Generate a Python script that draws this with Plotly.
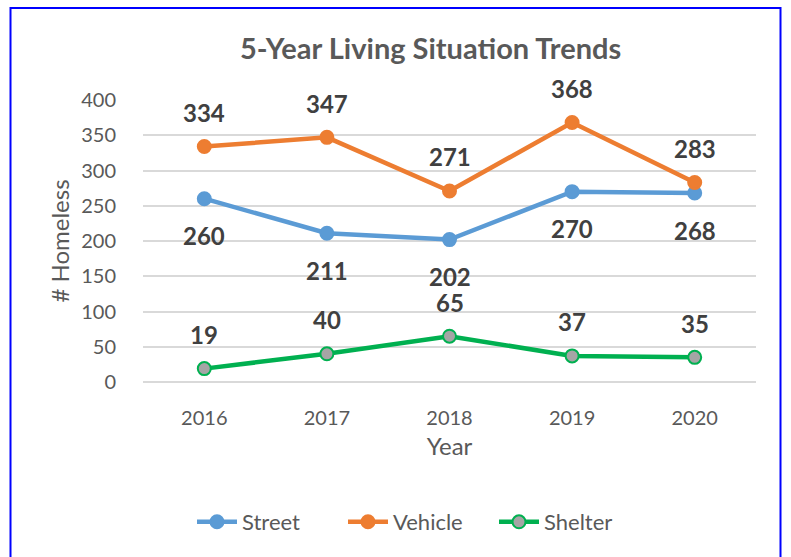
import plotly.graph_objects as go

years = ["2016", "2017", "2018", "2019", "2020"]
street = [260, 211, 202, 270, 268]
vehicle = [334, 347, 271, 368, 283]
shelter = [19, 40, 65, 37, 35]

W, H = 791, 557
L, R, T, B = 143, 35, 100, 175
pw, ph = W - L - R, H - T - B

FONT = "Lato"
fig = go.Figure()

series = [
    ("Street", street, "#5B9BD5", "#5B9BD5", 1),
    ("Vehicle", vehicle, "#ED7D31", "#ED7D31", -1),
    ("Shelter", shelter, "#00B050", "#A5A5A5", -1),
]
for name, vals, lc, fc, _ in series:
    fig.add_trace(go.Scatter(
        x=years, y=vals, name=name, mode="lines+markers",
        line=dict(color=lc, width=4.5),
        marker=dict(size=13, color=fc, line=dict(color=lc, width=2)),
        hoverinfo="skip",
    ))

annotations = []
for name, vals, lc, fc, below in series:
    for i, v in enumerate(vals):
        annotations.append(dict(
            x=i, y=v, xref="x", yref="y", text="<b>%d</b>" % v, showarrow=False,
            yshift=-37 if below == 1 else 34,
            font=dict(family=FONT, size=24, color="#404040"),
        ))

annotations.append(dict(
    x=(430 - L) / pw, y=(H - B - 47) / ph, xref="paper", yref="paper",
    xanchor="center", yanchor="middle",
    text="<b>5-Year Living Situation Trends</b>", showarrow=False,
    font=dict(family=FONT, size=29, color="#595959"),
))

fig.update_layout(
    width=W, height=H,
    margin=dict(l=L, r=R, t=T, b=B),
    paper_bgcolor="white", plot_bgcolor="white",
    showlegend=True,
    legend=dict(orientation="h", x=(192 - L) / pw, xanchor="left",
                y=(H - B - 522) / ph, yanchor="middle",
                font=dict(family=FONT, size=22, color="#595959"),
                itemwidth=40, entrywidth=96, itemclick=False),
    annotations=annotations,
    shapes=[dict(type="rect", xref="paper", yref="paper",
                 x0=(10.5 - L) / pw, x1=(780.5 - L) / pw,
                 y0=(H - B - 600) / ph, y1=(H - B - 8) / ph,
                 line=dict(color="#0000FF", width=2), layer="above")],
    xaxis=dict(
        type="category", range=[-0.5, 4.5], showgrid=False, showline=False,
        zeroline=False,
        ticks="outside", ticklen=18, tickcolor="rgba(0,0,0,0)",
        tickfont=dict(family=FONT, size=20, color="#595959"),
        title=dict(text="Year", standoff=10,
                   font=dict(family=FONT, size=24, color="#595959")),
        fixedrange=True,
    ),
    yaxis=dict(
        range=[0, 400], dtick=50, showgrid=True, gridcolor="#D9D9D9",
        gridwidth=1.5, zeroline=True, zerolinecolor="#D9D9D9",
        zerolinewidth=1.5, showline=False,
        ticks="outside", ticklen=22, tickcolor="rgba(0,0,0,0)",
        tickfont=dict(family=FONT, size=20, color="#595959"),
        title=dict(text="# Homeless", standoff=4,
                   font=dict(family=FONT, size=24, color="#595959")),
        fixedrange=True,
    ),
)

fig.write_html("out.html")
